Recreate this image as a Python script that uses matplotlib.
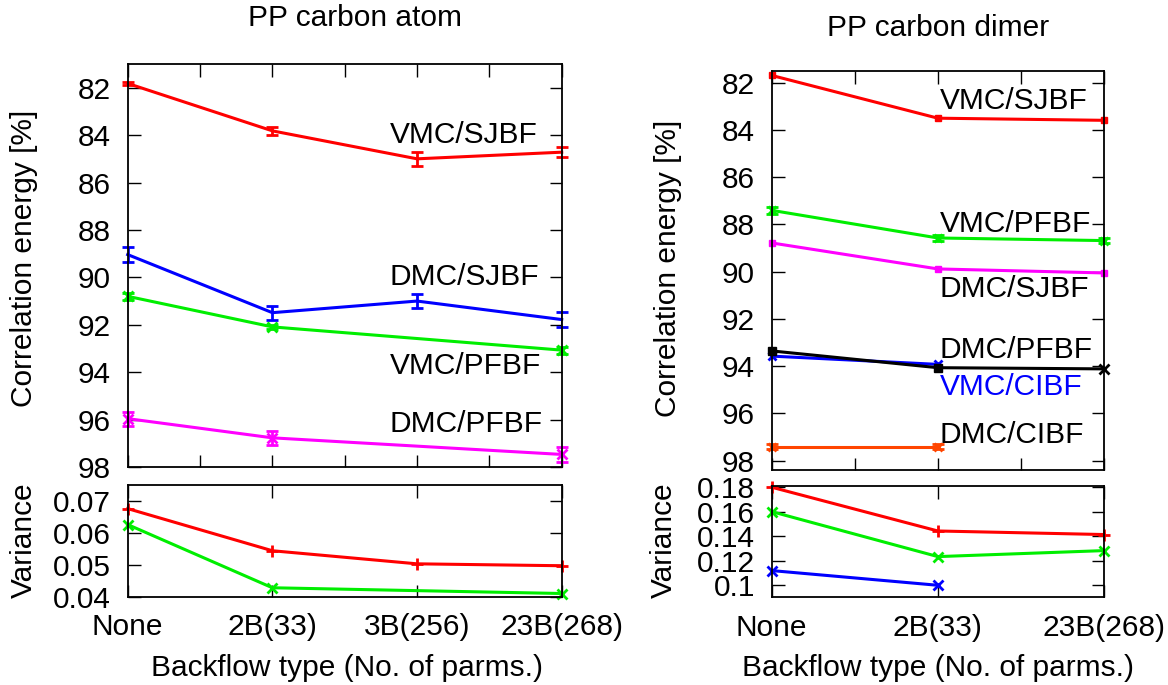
import numpy as np
import matplotlib
matplotlib.use("Agg")
import matplotlib.pyplot as plt

plt.rcParams['font.family'] = ['Liberation Sans', 'DejaVu Sans']

# ---------------- data ----------------
atom_labels = ["None", "2B(33)", "3B(256)", "23B(268)"]
atom_x_all = [0, 1, 2, 3]
atom_x_nob3 = [0, 1, 3]

atom_vmc_sjbf = [81.82, 83.82, 85.0, 84.72]
atom_vmc_sjbf_err = [0.08, 0.17, 0.3, 0.2]
atom_dmc_sjbf = [89.04, 91.49, 91.0, 91.78]
atom_dmc_sjbf_err = [0.3, 0.3, 0.3, 0.3]
atom_vmc_pfbf = [90.8, 92.09, 93.07]
atom_vmc_pfbf_err = [0.15, 0.1, 0.15]
atom_dmc_pfbf = [95.96, 96.77, 97.47]
atom_dmc_pfbf_err = [0.3, 0.3, 0.3]

atom_var_sjbf = [0.0676, 0.0544, 0.0503, 0.0497]
atom_var_pfbf = [0.0626, 0.0428, 0.0410]

dimer_labels = ["None", "2B(33)", "23B(268)"]
dimer_x_all = [0, 1, 2]
dimer_x_two = [0, 1]

dimer_vmc_sjbf = [81.70, 83.51, 83.60]
dimer_vmc_pfbf = [87.41, 88.58, 88.69]
dimer_dmc_sjbf = [88.79, 89.89, 90.06]
dimer_dmc_pfbf = [93.36, 94.07, 94.12]
dimer_vmc_cibf = [93.58, 93.93]
dimer_dmc_cibf = [97.41, 97.41]
dimer_pfbf_err = [0.15, 0.12, 0.12]
dimer_cibf_err = [0.12, 0.12]

dimer_var_sjbf = [0.180, 0.1443, 0.1414]
dimer_var_pfbf = [0.1601, 0.1234, 0.1283]
dimer_var_cibf = [0.112, 0.100]

RED = '#ff0000'
GREEN = '#00ee00'
BLUE = '#0000ff'
MAG = '#ff00ff'
BLACK = '#000000'
ORANGE = '#ff4500'

FS = 21.5
LW = 2.2

fig = plt.figure(figsize=(11.68, 6.85), dpi=100)
W, H = 1168, 685


def ax_at(l, r, t, b):
    return fig.add_axes([l / W, 1 - b / H, (r - l) / W, (b - t) / H])


def ftext(x, y, s, **kw):
    fig.text(x / W, 1 - y / H, s, fontsize=FS, ha='center', va='center', **kw)


def style(ax):
    ax.tick_params(direction='in', which='both', top=True, right=True,
                   labelsize=FS, length=9, width=1.0)
    ax.tick_params(axis='y', pad=12)
    ax.tick_params(axis='x', pad=12)
    for s in ax.spines.values():
        s.set_linewidth(1.3)


def eb(ax, x, y, e, c, marker=None, ms=6):
    ax.errorbar(x, y, yerr=e, color=c, lw=LW, elinewidth=2.0, capsize=4,
                capthick=2.0, marker=marker, ms=ms, mew=2.0)


# ---------------- left top ----------------
ax1 = ax_at(127.7, 561.7, 64, 467)
eb(ax1, atom_x_all, atom_vmc_sjbf, atom_vmc_sjbf_err, RED)
eb(ax1, atom_x_all, atom_dmc_sjbf, atom_dmc_sjbf_err, BLUE)
eb(ax1, atom_x_nob3, atom_vmc_pfbf, atom_vmc_pfbf_err, GREEN, marker='x', ms=7)
eb(ax1, atom_x_nob3, atom_dmc_pfbf, atom_dmc_pfbf_err, MAG, marker='x', ms=7)
ax1.set_xlim(0, 3)
ax1.set_ylim(98, 81)
ax1.set_yticks([82, 84, 86, 88, 90, 92, 94, 96, 98])
ax1.set_xticks(np.arange(0, 3.01, 0.5))
ax1.set_xticklabels([])
style(ax1)
for txt, yy in [("VMC/SJBF", 84.0), ("DMC/SJBF", 89.97),
                ("VMC/PFBF", 93.75), ("DMC/PFBF", 96.2)]:
    ax1.text(1.81, yy, txt, fontsize=FS, ha='left', va='center')

# ---------------- left bottom ----------------
ax2 = ax_at(127.7, 561.7, 485, 596.7)
ax2.plot(atom_x_all, atom_var_sjbf, color=RED, lw=LW, marker='+', ms=9, mew=2)
ax2.plot(atom_x_nob3, atom_var_pfbf, color=GREEN, lw=LW, marker='x', ms=7, mew=2)
ax2.set_xlim(0, 3)
ax2.set_ylim(0.04, 0.075)
ax2.set_yticks([0.04, 0.05, 0.06, 0.07])
ax2.set_yticklabels(["0.04", "0.05", "0.06", "0.07"])
ax2.set_xticks(atom_x_all)
ax2.set_xticklabels(atom_labels)
style(ax2)

# ---------------- right top ----------------
ax3 = ax_at(771.7, 1104, 70.7, 470)
ax3.plot(dimer_x_all, dimer_vmc_sjbf, color=RED, lw=LW, marker='s', ms=5)
eb(ax3, dimer_x_all, dimer_vmc_pfbf, dimer_pfbf_err, GREEN, marker='x', ms=6)
ax3.plot(dimer_x_all, dimer_dmc_sjbf, color=MAG, lw=LW, marker='s', ms=5)
ax3.plot(dimer_x_two, dimer_vmc_cibf, color=BLUE, lw=LW, marker='x', ms=6, mew=2)
ax3.plot(dimer_x_all, dimer_dmc_pfbf, color=BLACK, lw=LW, marker='s', ms=6,
         markevery=[0, 1])
ax3.plot(dimer_x_all[2:], dimer_dmc_pfbf[2:], color=BLACK, lw=0, marker='x',
         ms=7, mew=2)
eb(ax3, dimer_x_two, dimer_dmc_cibf, dimer_cibf_err, ORANGE, marker='x', ms=6)
ax3.set_xlim(0, 2)
ax3.set_ylim(98.4, 81.5)
ax3.set_yticks([82, 84, 86, 88, 90, 92, 94, 96, 98])
ax3.set_xticks(np.arange(0, 2.01, 0.5))
ax3.set_xticklabels([])
style(ax3)
for txt, yy, c in [("VMC/SJBF", 82.8, BLACK), ("VMC/PFBF", 87.97, BLACK),
                   ("DMC/SJBF", 90.73, BLACK), ("DMC/PFBF", 93.3, BLACK),
                   ("VMC/CIBF", 94.9, BLUE), ("DMC/CIBF", 96.9, BLACK)]:
    ax3.text(1.01, yy, txt, fontsize=FS, ha='left', va='center', color=c)

# ---------------- right bottom ----------------
ax4 = ax_at(771.7, 1104, 486, 597.3)
ax4.plot(dimer_x_all, dimer_var_sjbf, color=RED, lw=LW, marker='+', ms=9, mew=2)
ax4.plot(dimer_x_all, dimer_var_pfbf, color=GREEN, lw=LW, marker='x', ms=7, mew=2)
ax4.plot(dimer_x_two, dimer_var_cibf, color=BLUE, lw=LW, marker='x', ms=7, mew=2)
ax4.set_xlim(0, 2)
ax4.set_ylim(0.0902, 0.181)
ax4.set_yticks([0.10, 0.12, 0.14, 0.16, 0.18])
ax4.set_yticklabels(["0.1", "0.12", "0.14", "0.16", "0.18"])
ax4.set_xticks(dimer_x_all)
ax4.set_xticklabels(dimer_labels)
style(ax4)

for a in (ax1, ax2, ax3, ax4):
    for line in a.get_lines():
        line.set_clip_on(False)

# ---------------- titles and axis labels ----------------
ftext(355, 18, "PP carbon atom")
ftext(938, 28, "PP carbon dimer")
ftext(24, 258, "Correlation energy [%]", rotation=90)
ftext(668, 268, "Correlation energy [%]", rotation=90)
ftext(24, 540, "Variance", rotation=90)
ftext(664, 540, "Variance", rotation=90)
ftext(347, 668, "Backflow type (No. of parms.)")
ftext(938, 668, "Backflow type (No. of parms.)")

fig.savefig("out.png", dpi=100)
